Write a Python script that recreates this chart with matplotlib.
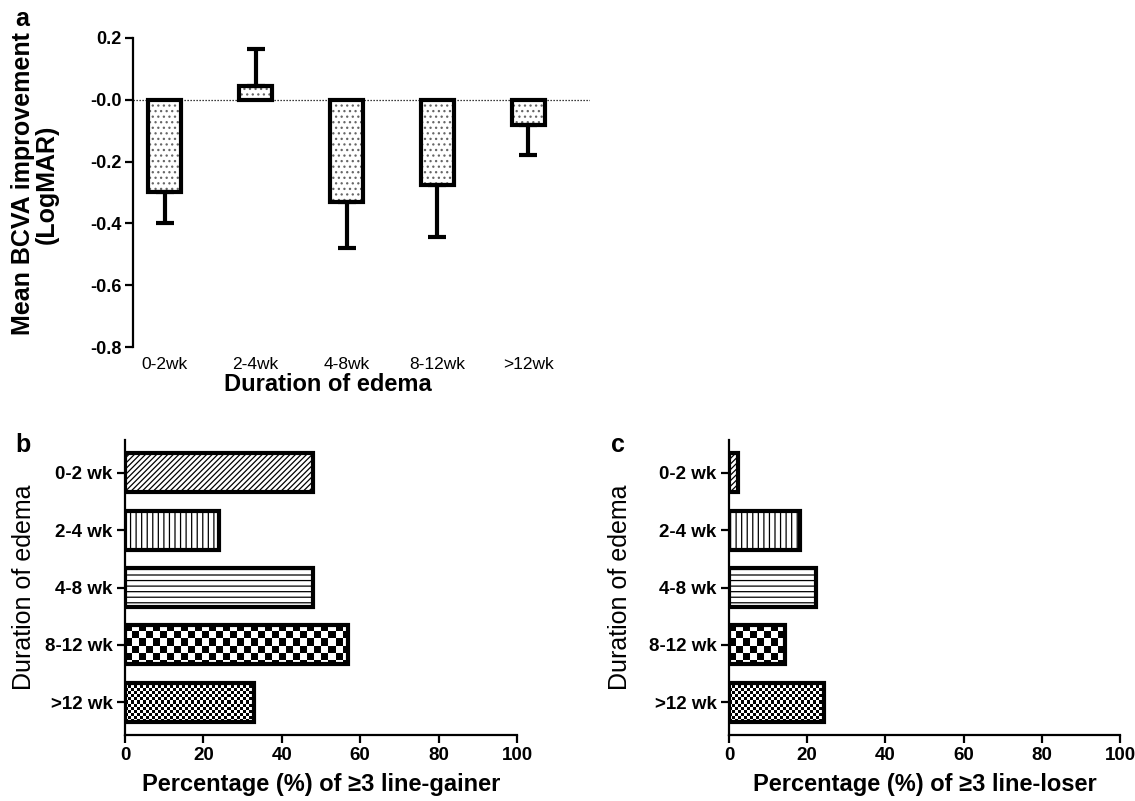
import numpy as np
import matplotlib
matplotlib.use("Agg")
import matplotlib.pyplot as plt
import matplotlib.transforms as mtransforms
from matplotlib import font_manager

# ---- data ----
weeks_a = ["0-2wk", "2-4wk", "4-8wk", "8-12wk", ">12wk"]
bcva_mean = [-0.30, 0.045, -0.33, -0.275, -0.08]
bcva_err = [0.10, 0.12, 0.15, 0.17, 0.10]

weeks_bc = ["0-2 wk", "2-4 wk", "4-8 wk", "8-12 wk", ">12 wk"]
gainer_pct = [48, 24, 48, 57, 33]
loser_pct = [2.3, 18.2, 22.2, 14.3, 24.2]

a_yticks = [-0.8, -0.6, -0.4, -0.2, 0.0, 0.2]
a_yticklabels = ["-0.8", "-0.6", "-0.4", "-0.2", "-0.0", "0.2"]
pct_ticks = [0, 20, 40, 60, 80, 100]

names = {f.name for f in font_manager.fontManager.ttflist}
base = "Liberation Sans" if "Liberation Sans" in names else "DejaVu Sans"
narrow = "Liberation Sans Narrow" if "Liberation Sans Narrow" in names else base
plt.rcParams["font.family"] = base
plt.rcParams["hatch.linewidth"] = 0.9

W, H = 1135, 801
fig = plt.figure(figsize=(W / 100, H / 100), dpi=100)


def style_ticks(ax, labelsize):
    for lab in ax.get_xticklabels() + ax.get_yticklabels():
        lab.set_fontfamily(narrow)
        lab.set_fontweight("bold")
        lab.set_fontsize(labelsize)


# ================= panel a =================
ax = fig.add_axes([133 / W, 1 - 347 / H, 457 / W, 309 / H])
x = np.arange(len(weeks_a))
lower = [e if m < 0 else 0 for m, e in zip(bcva_mean, bcva_err)]
upper = [e if m >= 0 else 0 for m, e in zip(bcva_mean, bcva_err)]

ax.axhline(0, color="k", ls=(0, (1, 1.4)), lw=0.9, zorder=0)
ax.bar(x, bcva_mean, width=0.36, color="white", hatch="...", edgecolor="#666666",
       lw=0, zorder=1)
ax.errorbar(x, bcva_mean, yerr=[lower, upper], fmt="none", ecolor="k",
            elinewidth=3, capsize=6.5, capthick=3, zorder=2)
ax.bar(x, bcva_mean, width=0.36, fill=False, edgecolor="k", lw=3, zorder=3)

ax.set_xlim(-0.35, 4.68)
ax.set_ylim(-0.8, 0.2)
ax.set_yticks(a_yticks)
ax.set_yticklabels(a_yticklabels)
ax.set_xticks(x)
ax.set_xticklabels(weeks_a, fontsize=12.5)
shift = mtransforms.ScaledTranslation(0.08, 0, fig.dpi_scale_trans)
for lab in ax.get_xticklabels():
    lab.set_transform(lab.get_transform() + shift)
for s in ["top", "right", "bottom"]:
    ax.spines[s].set_visible(False)
ax.spines["left"].set_linewidth(1.6)
ax.tick_params(axis="y", length=6, width=1.6, pad=2)
ax.tick_params(axis="x", length=0, pad=7)
for lab in ax.get_yticklabels():
    lab.set_fontfamily(narrow)
    lab.set_fontweight("bold")
    lab.set_fontsize(13)
ax.set_xlabel("Duration of edema", fontsize=17, fontweight="bold", labelpad=1)
ax.xaxis.set_label_coords((328 - 133) / 457, -0.085)

fig.text(35 / W, 1 - 184 / H, "Mean BCVA improvement\n(LogMAR)", rotation=90,
         ha="center", va="center", fontsize=18, fontweight="bold", linespacing=1.0)
fig.text(22 / W, 1 - 19 / H, "a", ha="center", va="center", fontsize=18,
         fontweight="bold")


# ================= panels b and c =================
def checker(ax, patch, square_px, px_per_x, px_per_y):
    x0, y0 = patch.get_x(), patch.get_y()
    w, h = patch.get_width(), patch.get_height()
    sx = square_px / px_per_x
    sy = square_px / px_per_y
    nx = max(int(np.ceil(w / sx)), 1)
    ny = max(int(np.ceil(h / sy)), 1)
    grid = np.add.outer(np.arange(ny), np.arange(nx)) % 2
    im = ax.imshow(grid, cmap="gray", vmin=0, vmax=1, interpolation="nearest",
                   extent=(x0, x0 + nx * sx, y0 + ny * sy, y0), aspect="auto",
                   zorder=2)
    im.set_clip_path(patch)


hatches = ["//////", "|||", "---", None, None]


def hbar_panel(rect, values, xlabel, letter, letter_xy, ylabel_x):
    ax = fig.add_axes(rect)
    y = np.arange(len(weeks_bc))
    ylim = (4.57, -0.57)
    px_x = rect[2] * W / 100.0
    px_y = rect[3] * H / (ylim[0] - ylim[1])
    face = ax.barh(y, values, height=0.68, color="white", edgecolor="k", lw=0,
                   zorder=1)
    for i, p in enumerate(face):
        if hatches[i]:
            p.set_hatch(hatches[i])
        elif i == 3:
            checker(ax, p, 7, px_x, px_y)
        else:
            checker(ax, p, 3, px_x, px_y)
    ax.barh(y, values, height=0.68, fill=False, edgecolor="k", lw=3, zorder=3)

    ax.set_xlim(0, 100)
    ax.set_ylim(*ylim)
    ax.set_xticks(pct_ticks)
    ax.set_yticks(y)
    ax.set_yticklabels(weeks_bc)
    for s in ["top", "right"]:
        ax.spines[s].set_visible(False)
    for s in ["left", "bottom"]:
        ax.spines[s].set_linewidth(1.6)
    ax.tick_params(length=6, width=1.6, pad=3)
    style_ticks(ax, 13.5)
    ax.set_xlabel(xlabel, fontsize=17, fontweight="bold", labelpad=6)
    fig.text(ylabel_x / W, 1 - 587 / H, "Duration of edema", rotation=90,
             ha="center", va="center", fontsize=18)
    fig.text(letter_xy[0] / W, 1 - letter_xy[1] / H, letter, ha="center",
             va="center", fontsize=18, fontweight="bold")
    return ax


hbar_panel([125 / W, 1 - 735 / H, 392 / W, 295 / H], gainer_pct,
           "Percentage (%) of \u22653 line-gainer", "b", (23, 445), 24)
hbar_panel([729 / W, 1 - 735 / H, 391 / W, 295 / H], loser_pct,
           "Percentage (%) of \u22653 line-loser", "c", (618, 445), 620)

fig.savefig("out.png", dpi=100)
